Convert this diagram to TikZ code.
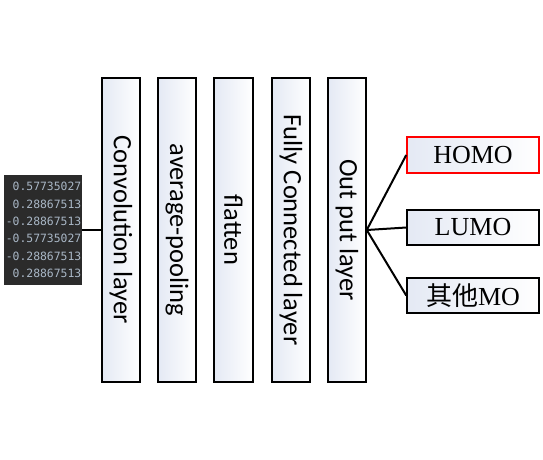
\documentclass[tikz,border=0pt]{standalone}
\usepackage{fontspec}
\setmainfont{Liberation Serif}
\setsansfont{Carlito}
\setmonofont{DejaVu Sans Mono}
\newfontfamily\cjk{Noto Sans CJK SC}
\definecolor{boxblue}{HTML}{E4E9F4}
\definecolor{codebg}{HTML}{2B2B2B}
\definecolor{codefg}{HTML}{A9B7C6}
\tikzset{
  layerbox/.style={draw=black, line width=1.5pt, rotate=-90, left color=boxblue, right color=white,
    minimum width=304, minimum height=38, inner sep=0pt,
    font=\sffamily\fontsize{26.5}{30}\selectfont},
  outbox/.style={draw=black, line width=1.5pt, left color=boxblue, right color=white,
    minimum width=132, minimum height=35, inner sep=0pt,
    font=\fontsize{26}{28}\selectfont},
  link/.style={line width=2pt, black}
}
\begin{document}
\begin{tikzpicture}[x=1pt,y=-1pt]
\useasboundingbox (0,0) rectangle (543,459);
\node[fill=codebg, minimum width=78, minimum height=110, inner sep=0pt] (data) at (43,230) {};
\node[anchor=east, text=codefg, align=right, inner sep=0pt,
  font=\ttfamily\fontsize{11.4}{17.4}\selectfont] (nums) at (81.5,230)
  {0.57735027\\0.28867513\\-0.28867513\\-0.57735027\\-0.28867513\\0.28867513};
\node[layerbox] (conv) at (121,230) {Convolution layer};
\node[layerbox] (pool) at (177,230) {average-pooling};
\node[layerbox, minimum height=39] (flat) at (233.5,230) {flatten};
\node[layerbox] (fc) at (291,230) {Fully Connected layer};
\node[layerbox] (out) at (347,230) {Out put layer};
\node[outbox, draw=red, minimum height=36] (homo) at (473,155) {HOMO};
\node[outbox] (lumo) at (473,227.5) {LUMO};
\node[outbox] (other) at (473,295.5) {{\cjk 其他}MO};
\draw[link] (data.east) -- (conv.south);
\draw[link] (out.north) -- (homo.west);
\draw[link] (out.north) -- (lumo.west);
\draw[link] (out.north) -- (other.west);
\end{tikzpicture}
\end{document}
